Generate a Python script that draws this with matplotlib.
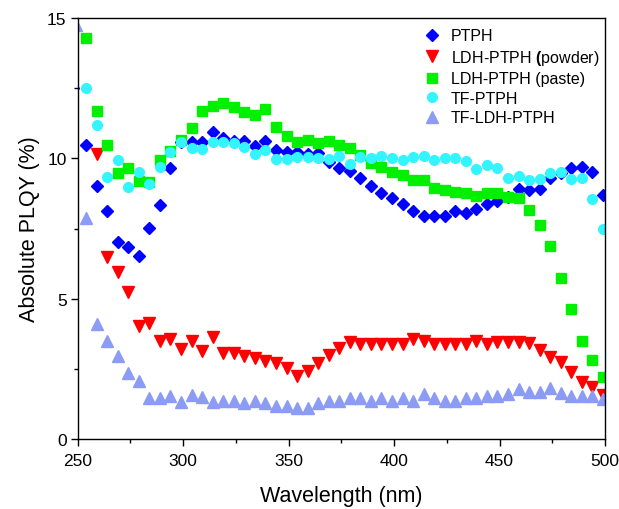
import matplotlib
matplotlib.use("Agg")
import matplotlib.pyplot as plt
from matplotlib.ticker import MultipleLocator

plt.rcParams['font.family'] = ['Liberation Sans', 'DejaVu Sans']
plt.rcParams['mathtext.fontset'] = 'custom'
plt.rcParams['mathtext.bf'] = 'Liberation Sans:bold'
plt.rcParams['mathtext.rm'] = 'Liberation Sans'

# Excitation wavelength grid (nm)
wavelength = [254, 259, 264, 269, 274, 279, 284, 289, 294, 299,
              304, 309, 314, 319, 324, 329, 334, 339, 344, 349,
              354, 359, 364, 369, 374, 379, 384, 389, 394, 399,
              404, 409, 414, 419, 424, 429, 434, 439, 444, 449,
              454, 459, 464, 469, 474, 479, 484, 489, 494, 499]

wl_ptph = [248] + wavelength
ptph = [12.5, 10.48, 9.00, 8.11, 7.01, 6.85, 6.51, 7.51, 8.34, 9.64, 10.57,
        10.57, 10.59, 10.95, 10.71, 10.63, 10.63, 10.45, 10.63, 10.29, 10.23,
        10.24, 10.15, 10.18, 9.88, 9.66, 9.54, 9.29, 9.03, 8.75, 8.58,
        8.38, 8.12, 7.95, 7.95, 7.94, 8.14, 8.05, 8.20, 8.39, 8.49,
        8.61, 8.89, 8.87, 8.91, 9.30, 9.49, 9.64, 9.70, 9.51, 8.68]

wl_powder = wavelength[1:]
ldh_powder = [10.15, 6.47, 5.94, 5.22, 4.04, 4.14, 3.50, 3.57, 3.22,
              3.50, 3.15, 3.62, 3.06, 3.06, 2.97, 2.89, 2.79, 2.72, 2.52,
              2.25, 2.43, 2.72, 2.99, 3.25, 3.44, 3.37, 3.39, 3.39, 3.39,
              3.39, 3.56, 3.50, 3.39, 3.39, 3.39, 3.39, 3.50, 3.39, 3.47,
              3.47, 3.44, 3.42, 3.18, 2.91, 2.73, 2.37, 2.04, 1.84, 1.57]

ldh_paste = [14.29, 11.69, 10.48, 9.48, 9.64, 9.20, 9.14, 9.95, 10.27, 10.66,
             11.07, 11.70, 11.85, 11.96, 11.82, 11.65, 11.56, 11.76, 11.10, 10.78,
             10.60, 10.66, 10.55, 10.61, 10.48, 10.36, 10.11, 9.85, 9.68, 9.51,
             9.42, 9.24, 9.24, 8.96, 8.88, 8.79, 8.76, 8.67, 8.76, 8.75,
             8.61, 8.59, 8.17, 7.61, 6.89, 5.72, 4.63, 3.48, 2.81, 2.20]

tf_ptph = [12.49, 11.19, 9.32, 9.95, 8.97, 9.51, 9.08, 9.68, 10.23, 10.57,
           10.36, 10.34, 10.58, 10.57, 10.55, 10.40, 10.15, 10.29, 9.99, 9.98,
           10.03, 10.03, 10.00, 9.98, 10.09, 9.80, 10.03, 10.00, 10.08, 10.00,
           9.95, 10.03, 10.08, 9.95, 10.00, 10.00, 9.90, 9.63, 9.77, 9.65,
           9.31, 9.38, 9.24, 9.26, 9.46, 9.52, 9.25, 9.31, 8.54, 7.48]

wl_tf_ldh = [249] + wavelength
tf_ldh = [14.75, 7.87, 4.10, 3.50, 2.94, 2.35, 2.05, 1.46, 1.47, 1.54, 1.32,
          1.57, 1.48, 1.33, 1.36, 1.36, 1.27, 1.36, 1.27, 1.19, 1.19,
          1.12, 1.12, 1.28, 1.37, 1.37, 1.45, 1.45, 1.37, 1.45, 1.37,
          1.45, 1.37, 1.60, 1.45, 1.37, 1.37, 1.45, 1.45, 1.52, 1.54,
          1.60, 1.78, 1.69, 1.69, 1.82, 1.64, 1.54, 1.52, 1.54, 1.43]

x_ticks = [250, 300, 350, 400, 450, 500]
y_ticks = [0, 5, 10, 15]

fig = plt.figure(figsize=(6.19, 5.10), dpi=100)
ax = fig.add_axes([0.1255, 0.1373, 0.8519, 0.8254])

ax.plot(wl_ptph, ptph, ls='none', marker='D', ms=6.0, color='#0000ff',
        mec='#0000ff', label='PTPH')
ax.plot(wl_powder, ldh_powder, ls='none', marker='v', ms=8.0, color='#ff0000',
        mec='#ff0000', label=r'LDH-PTPH $\mathbf{(}$powder)')
ax.plot(wavelength, ldh_paste, ls='none', marker='s', ms=6.8, color='#00f000',
        mec='#00f000', label='LDH-PTPH (paste)')
ax.plot(wavelength, tf_ptph, ls='none', marker='o', ms=7.0, color='#33f5ff',
        mec='#33f5ff', label='TF-PTPH')
ax.plot(wl_tf_ldh, tf_ldh, ls='none', marker='^', ms=8.0, color='#8c9cf5',
        mec='#8c9cf5', label='TF-LDH-PTPH')

ax.set_xlim(250, 500)
ax.set_ylim(0, 15)
ax.set_xticks(x_ticks)
ax.set_yticks(y_ticks)
ax.xaxis.set_minor_locator(MultipleLocator(25))
ax.yaxis.set_minor_locator(MultipleLocator(2.5))
ax.tick_params(which='both', direction='out', top=False, right=False,
               labelsize=12.5, width=1.0)
ax.tick_params(axis='x', which='major', length=5, pad=5)
ax.tick_params(axis='y', which='major', length=5, pad=3)
ax.tick_params(which='minor', length=3)
for sp in ax.spines.values():
    sp.set_linewidth(1.0)

ax.set_xlabel('Wavelength (nm)', fontsize=15.5, labelpad=12)
ax.set_ylabel('Absolute PLQY (%)', fontsize=15.5, labelpad=5)

ax.legend(loc='upper right', bbox_to_anchor=(1.012, 1.004), frameon=False,
          fontsize=11.5, handlelength=1.0, handletextpad=0.7,
          labelspacing=0.28, borderaxespad=0.35)

fig.savefig('out.png', dpi=100)
